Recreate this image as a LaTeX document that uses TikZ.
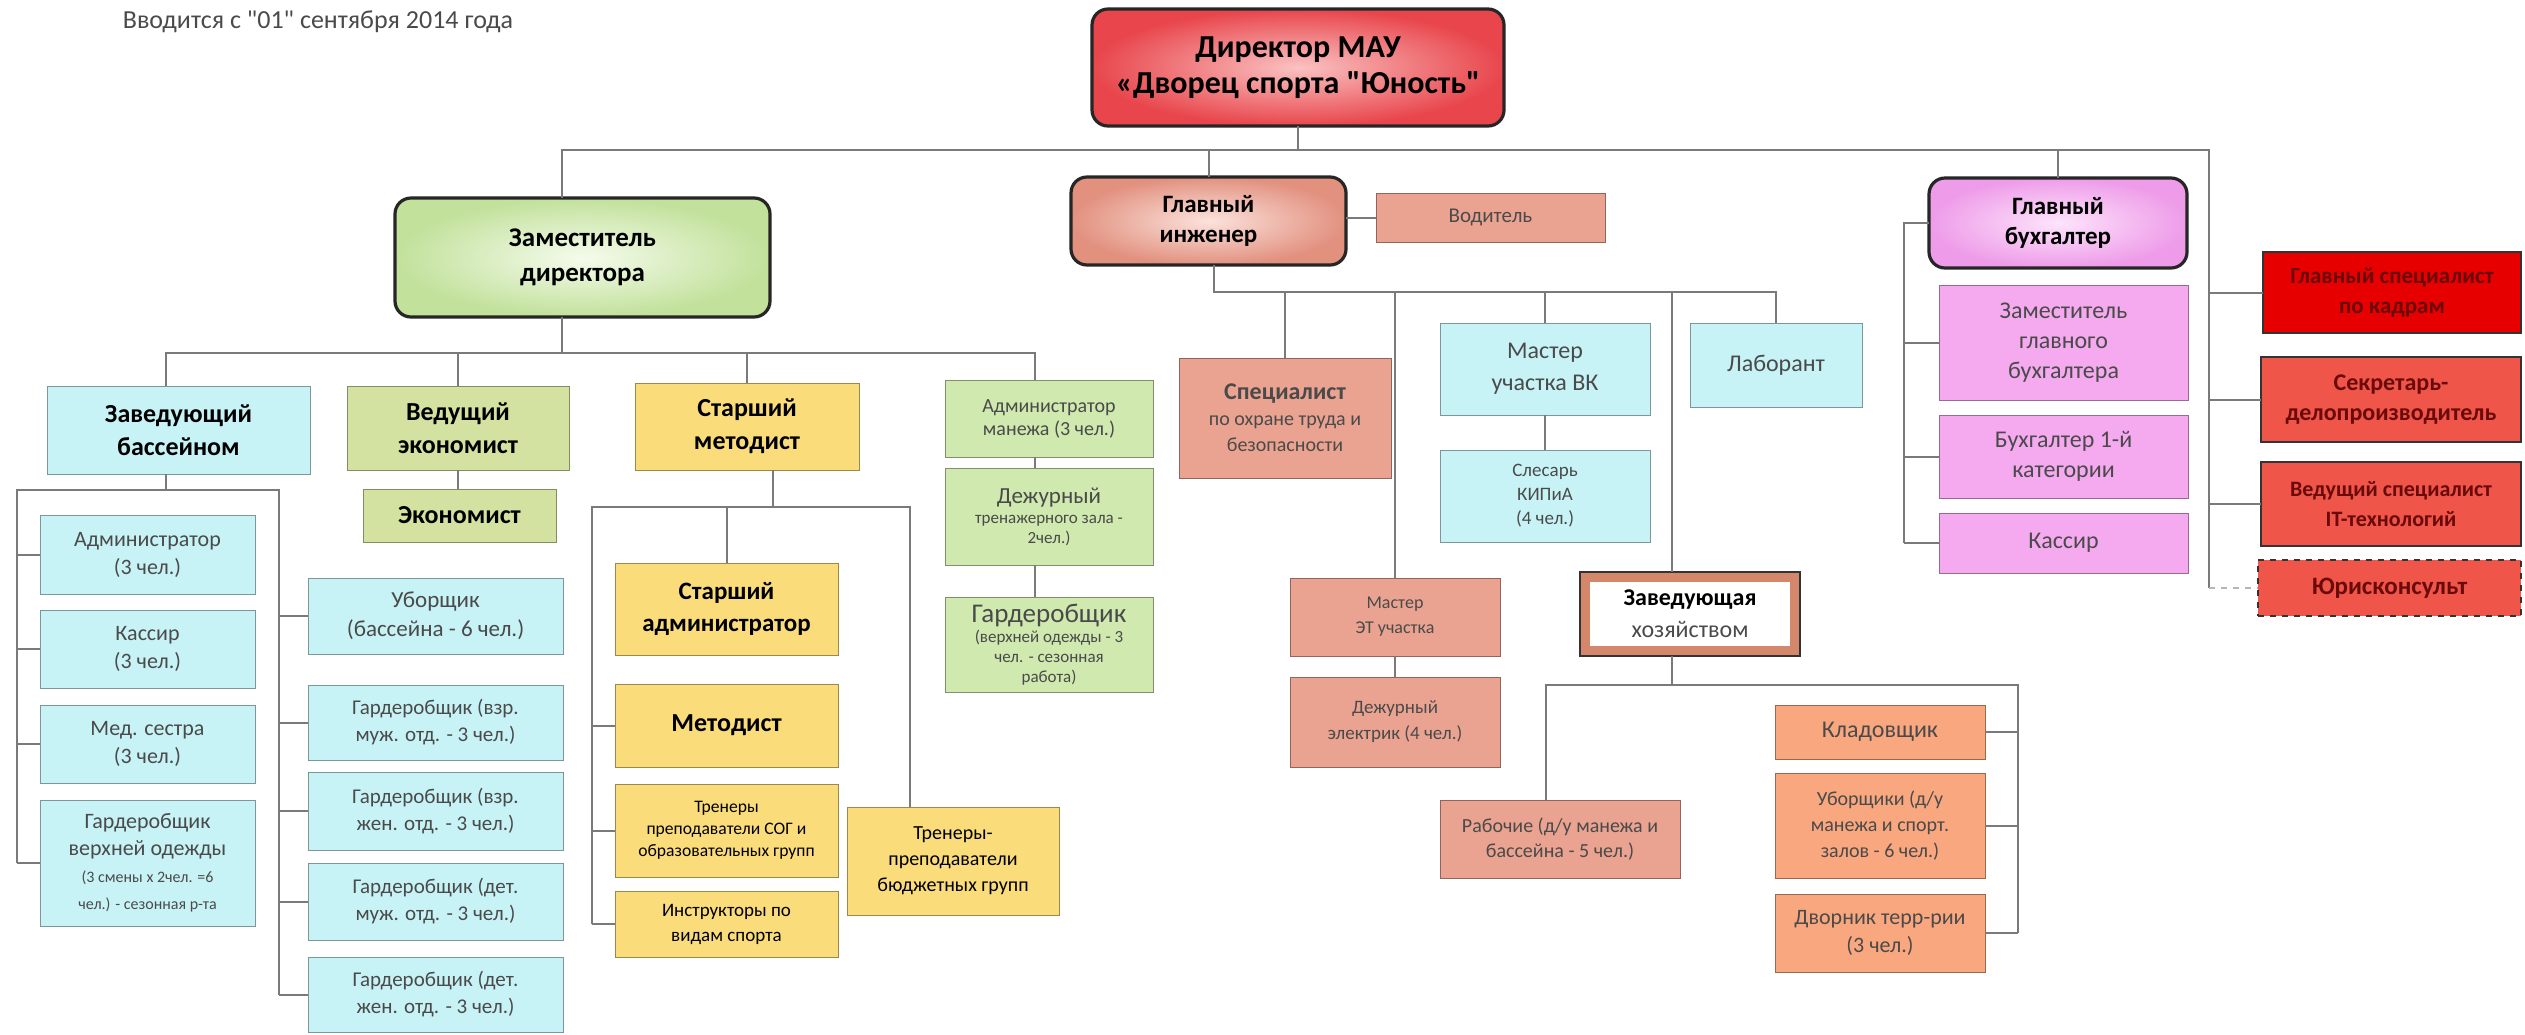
\documentclass[tikz,border=0pt]{standalone}
\usepackage{fontspec}
\setmainfont{Carlito}
\newfontfamily\qf{Carlito}
\usetikzlibrary{calc}
\definecolor{cyanb}{HTML}{C8F3F6}
\definecolor{olive}{HTML}{D3E2A0}
\definecolor{yel}{HTML}{FADD7A}
\definecolor{grn}{HTML}{CFE9AF}
\definecolor{salm}{HTML}{EBA391}
\definecolor{oran}{HTML}{F9A77F}
\definecolor{pinkb}{HTML}{F5AAF0}
\definecolor{redA}{HTML}{E60000}
\definecolor{redB}{HTML}{EF5548}
\definecolor{lineg}{HTML}{7A7A7A}
\definecolor{txtg}{HTML}{4A4A4A}
\definecolor{txtr}{HTML}{6A0A0A}
\definecolor{dirin}{HTML}{FAC2C2}
\definecolor{dirout}{HTML}{E8464C}
\definecolor{giin}{HTML}{FBE2DC}
\definecolor{giout}{HTML}{E2917F}
\definecolor{gbin}{HTML}{FDE4FB}
\definecolor{gbout}{HTML}{EE9CE9}
\definecolor{zamin}{HTML}{F5FBEC}
\definecolor{zamout}{HTML}{C2E19B}
\definecolor{zhband}{HTML}{D4876A}
\newcommand\myfs[2]{\fontsize{#1}{#2}\selectfont}
\newcommand\sq{{\qf\symbol{34}}}
\newcommand\bx[7]{\node[#6, minimum width={(#4-#2)*0.5pt}, minimum height={(#5-#3)*0.5pt}] (#1) at ({(#2+#4)/2},{(#3+#5)/2}) {#7};}
\tikzset{
  every node/.style={inner sep=0pt, outer sep=0pt, align=center},
  rbox/.style={rectangle, draw=#1!62!black, fill=#1, line width=0.5pt},
  rnd/.style={rectangle, rounded corners=8pt, draw=black!85, line width=1.6pt},
  conn/.style={draw=lineg, line width=1pt},
  hdr/.style={font={\myfs{13}{16.5}\bfseries}, text=black},
  reg/.style={font={\myfs{11}{14}}, text=txtg},
}
\begin{document}
\begin{tikzpicture}[x=0.5pt,y=-0.5pt]
\useasboundingbox (0,0) rectangle (2525,1034);
\fill[white] (0,0) rectangle (2525,1034);

\node[font={\myfs{13}{15}}, text=txtg] (title) at (318,22) {Вводится с \sq01\sq{} сентября 2014 года};

% top level
\bx{dir}{1092}{9}{1504}{126}{rnd, inner color=dirin, outer color=dirout, font={\myfs{16}{18}\bfseries}}{Директор МАУ\\«Дворец спорта \sq Юность\sq}
\bx{zam}{395}{198}{770}{317}{rnd, inner color=zamin, outer color=zamout, font={\myfs{13.5}{17.5}\bfseries}}{Заместитель\\директора}
\bx{gi}{1071}{177}{1346}{265}{rnd, inner color=giin, outer color=giout, font={\myfs{12.5}{15}\bfseries}}{Главный\\инженер}
\bx{vod}{1376}{193}{1605}{242}{rbox=salm, font={\myfs{10.5}{12}}, text=txtg}{Водитель}
\bx{gb}{1929}{178}{2187}{268}{rnd, inner color=gbin, outer color=gbout, font={\myfs{12.5}{15}\bfseries}}{Главный\\бухгалтер}

% right red column
\bx{red1}{2263}{252}{2521}{333}{rbox=redA, draw=black!80, line width=0.8pt, font={\myfs{11.5}{15}\bfseries}, text=txtr}{Главный специалист\\по кадрам}
\bx{red2}{2261}{357}{2521}{442}{rbox=redB, draw=black!80, line width=0.8pt, font={\myfs{12}{15}\bfseries}, text=txtr}{Секретарь-\\делопроизводитель}
\bx{red3}{2261}{462}{2521}{546}{rbox=redB, draw=black!80, line width=0.8pt, font={\myfs{11}{15}\bfseries}, text=txtr}{Ведущий специалист\\IT-технологий}
\bx{jur}{2258}{560}{2521}{616}{rbox=redB, draw=black!80, line width=0.8pt, dashed, font={\myfs{12.5}{15}\bfseries}, text=txtr}{Юрисконсульт}

% pink column
\bx{pink1}{1939}{285}{2188}{400}{rbox=pinkb, font={\myfs{12}{15}}, text=txtg}{Заместитель\\главного\\бухгалтера}
\bx{pink2}{1939}{415}{2188}{498}{rbox=pinkb, font={\myfs{12}{15}}, text=txtg}{Бухгалтер 1-й\\категории}
\bx{pink3}{1939}{513}{2188}{573}{rbox=pinkb, font={\myfs{12}{15}}, text=txtg}{Кассир}

% engineering
\bx{spec}{1179}{358}{1391}{478}{rbox=salm, font={\myfs{10}{13}}, text=txtg}{{\myfs{12}{15}\bfseries Специалист}\\по охране труда и\\безопасности}
\bx{mvk}{1440}{323}{1650}{415}{rbox=cyanb, font={\myfs{12}{16}}, text=txtg}{Мастер\\участка ВК}
\bx{lab}{1690}{323}{1862}{407}{rbox=cyanb, font={\myfs{12}{15}}, text=txtg}{Лаборант}
\bx{sles}{1440}{450}{1650}{542}{rbox=cyanb, font={\myfs{9.5}{12}}, text=txtg}{Слесарь\\КИПиА\\(4 чел.)}
\bx{met}{1290}{578}{1500}{656}{rbox=salm, font={\myfs{9}{12.5}}, text=txtg}{Мастер\\ЭТ участка}
\bx{del}{1290}{677}{1500}{767}{rbox=salm, font={\myfs{9.5}{13}}, text=txtg}{Дежурный\\электрик (4 чел.)}
\bx{zh}{1580}{572}{1800}{656}{rectangle, draw=black!80, line width=1pt, fill=zhband, path picture={\fill[white] ([xshift=5pt,yshift=-5pt]path picture bounding box.north west) rectangle ([xshift=-5pt,yshift=5pt]path picture bounding box.south east);}, font={\myfs{12}{16}}, text=txtg}{{\bfseries\color{black}Заведующая}\\хозяйством}
\bx{rab}{1440}{800}{1680}{878}{rbox=salm, font={\myfs{10}{12.5}}, text=txtg}{Рабочие (д/у манежа и\\бассейна - 5 чел.)}
\bx{klad}{1775}{705}{1985}{759}{rbox=oran, font={\myfs{12}{14}}, text=txtg}{Кладовщик}
\bx{ubor}{1775}{773}{1985}{878}{rbox=oran, font={\myfs{10}{13}}, text=txtg}{Уборщики (д/у\\манежа и спорт.\\залов - 6 чел.)}
\bx{dvor}{1775}{894}{1985}{972}{rbox=oran, font={\myfs{11}{14}}, text=txtg}{Дворник терр-рии\\(3 чел.)}

% level 2
\bx{zb}{47}{386}{310}{474}{rbox=cyanb, hdr}{Заведующий\\бассейном}
\bx{ve}{347}{386}{569}{470}{rbox=olive, hdr}{Ведущий\\экономист}
\bx{ek}{363}{489}{556}{542}{rbox=olive, hdr}{Экономист}
\bx{sm}{635}{383}{859}{470}{rbox=yel, hdr}{Старший\\методист}
\bx{am}{945}{380}{1153}{457}{rbox=grn, font={\myfs{10}{11.5}}, text=txtg}{Администратор\\манежа (3 чел.)}
\bx{dz}{945}{468}{1153}{565}{rbox=grn, font={\myfs{8.5}{10}}, text=txtg}{{\myfs{11.5}{13}Дежурный}\\тренажерного зала -\\2чел.)}
\bx{gm}{945}{597}{1153}{692}{rbox=grn, font={\myfs{8.5}{10}}, text=txtg}{{\myfs{13.5}{15}Гардеробщик}\\(верхней одежды - 3\\чел. - сезонная\\работа)}

% pool
\bx{adm}{40}{515}{255}{594}{rbox=cyanb, reg}{Администратор\\(3 чел.)}
\bx{kas}{40}{610}{255}{688}{rbox=cyanb, reg}{Кассир\\(3 чел.)}
\bx{med}{40}{705}{255}{783}{rbox=cyanb, reg}{Мед. сестра\\(3 чел.)}
\bx{gvo}{40}{800}{255}{926}{rbox=cyanb, font={\myfs{11}{13.5}}, text=txtg}{Гардеробщик\\верхней одежды\\{\myfs{8}{10}(3 смены х 2чел. =6}\\{\myfs{8}{10}чел.) - сезонная р-та}}
\bx{ub}{308}{578}{563}{654}{rbox=cyanb, font={\myfs{11.5}{14.5}}, text=txtg}{Уборщик\\(бассейна - 6 чел.)}
\bx{g1}{308}{685}{563}{760}{rbox=cyanb, font={\myfs{10.5}{13.5}}, text=txtg}{Гардеробщик (взр.\\муж. отд. - 3 чел.)}
\bx{g2}{308}{772}{563}{850}{rbox=cyanb, font={\myfs{10.5}{13.5}}, text=txtg}{Гардеробщик (взр.\\жен. отд. - 3 чел.)}
\bx{g3}{308}{863}{563}{940}{rbox=cyanb, font={\myfs{10.5}{13.5}}, text=txtg}{Гардеробщик (дет.\\муж. отд. - 3 чел.)}
\bx{g4}{308}{957}{563}{1032}{rbox=cyanb, font={\myfs{10.5}{13.5}}, text=txtg}{Гардеробщик (дет.\\жен. отд. - 3 чел.)}

% methodist
\bx{sa}{615}{563}{838}{655}{rbox=yel, font={\myfs{12.5}{16}\bfseries}}{Старший\\администратор}
\bx{mt}{615}{684}{838}{767}{rbox=yel, font={\myfs{13}{16}\bfseries}}{Методист}
\bx{tr1}{615}{784}{838}{877}{rbox=yel, font={\myfs{8.8}{11}}}{Тренеры\\преподаватели СОГ и\\образовательных групп}
\bx{ins}{615}{891}{838}{957}{rbox=yel, font={\myfs{9.5}{12.5}}}{Инструкторы по\\видам спорта}
\bx{tr2}{847}{807}{1059}{915}{rbox=yel, font={\myfs{10}{13}}}{Тренеры-\\преподаватели\\бюджетных групп}

% ---- connectors ----
\coordinate (m1) at (562,150);
\coordinate (m2) at (2209,150);
\draw[conn] (m1 |- zam.north) -- (m1) -- (m2) -- (m2 |- jur.west);
\draw[conn] (dir.south) -- (dir.south |- m1);
\draw[conn] (gi.north) -- (gi.north |- m1);
\draw[conn] (gb.north) -- (gb.north |- m1);
\foreach \n in {red1,red2,red3} \draw[conn] (m2 |- \n.west) -- (\n.west);
\draw[conn, dashed, draw=lineg!55] (m2 |- jur.west) -- (jur.west);
\draw[conn] (gi.east |- vod.west) -- (vod.west);

\coordinate (pk) at (1904,223);
\draw[conn] (gb.west |- pk) -- (pk) -- (pk |- pink3.west);
\foreach \n in {pink1,pink2,pink3} \draw[conn] (pk |- \n.west) -- (\n.west);

\coordinate (l2a) at (166,353);
\coordinate (l2b) at (1035,353);
\draw[conn] (m1 |- zam.south) -- (m1 |- l2a);
\draw[conn] (l2a |- zb.north) -- (l2a) -- (l2b) -- (l2b |- am.north);
\draw[conn] (ve.north) -- (ve.north |- l2a);
\draw[conn] (sm.north) -- (sm.north |- l2a);
\draw[conn] (ve.south) -- (ve.south |- ek.north);
\draw[conn] (l2b |- am.south) -- (l2b |- dz.north);
\draw[conn] (l2b |- dz.south) -- (l2b |- gm.north);

\coordinate (zbL) at (17,490);
\coordinate (zbR) at (279,490);
\draw[conn] (l2a |- zb.south) -- (l2a |- zbL);
\draw[conn] (zbL |- gvo.west) -- (zbL) -- (zbR) -- (zbR |- g4.west);
\foreach \n in {adm,kas,med,gvo} \draw[conn] (zbL |- \n.west) -- (\n.west);
\foreach \n in {ub,g1,g2,g3,g4} \draw[conn] (zbR |- \n.west) -- (\n.west);

\coordinate (smL) at (592,507);
\coordinate (smR) at (910,507);
\draw[conn] ([xshift=13pt]sm.south) -- ([xshift=13pt]sm.south |- smL);
\draw[conn] (smL |- ins.west) -- (smL) -- (smR) -- (smR |- tr2.north);
\draw[conn] (sa.north |- smL) -- (sa.north);
\foreach \n in {mt,tr1,ins} \draw[conn] (smL |- \n.west) -- (\n.west);

\coordinate (eL) at (1214,292);
\coordinate (eR) at (1776,292);
\coordinate (eZ) at (1672,292);
\draw[conn] (eL |- gi.south) -- (eL) -- (eR) -- (eR |- lab.north);
\draw[conn] (spec.north |- eL) -- (spec.north);
\draw[conn] (met.north |- eL) -- (met.north);
\draw[conn] (mvk.north |- eL) -- (mvk.north);
\draw[conn] (mvk.south) -- (mvk.south |- sles.north);
\draw[conn] (met.south) -- (met.south |- del.north);
\draw[conn] (eZ) -- (eZ |- zh.north);

\coordinate (hL) at (1546,685);
\coordinate (hR) at (2018,685);
\draw[conn] (eZ |- zh.south) -- (eZ |- hL);
\draw[conn] (hL |- rab.north) -- (hL) -- (hR) -- (hR |- dvor.east);
\foreach \n in {klad,ubor,dvor} \draw[conn] (hR |- \n.east) -- (\n.east);
\end{tikzpicture}
\end{document}
